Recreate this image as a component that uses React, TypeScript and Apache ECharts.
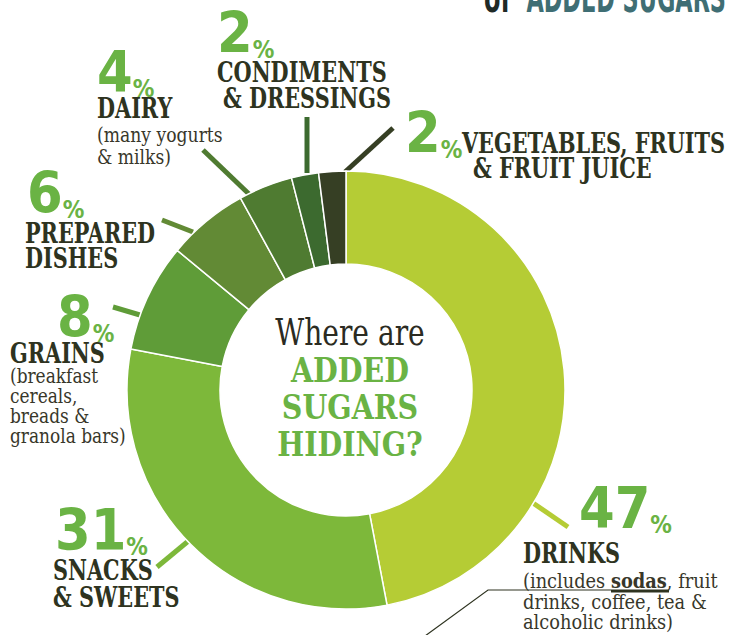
import React, { useEffect, useRef } from 'react';
import * as echarts from 'echarts';

// ---------- data ----------
const categories = [
  'Drinks',
  'Snacks & Sweets',
  'Grains',
  'Prepared Dishes',
  'Dairy',
  'Condiments & Dressings',
  'Vegetables, Fruits & Fruit Juice',
];
const shares = [47, 31, 8, 6, 4, 2, 2];
const nameLines = [
  ['DRINKS'],
  ['SNACKS', '& SWEETS'],
  ['GRAINS'],
  ['PREPARED', 'DISHES'],
  ['DAIRY'],
  ['CONDIMENTS', '& DRESSINGS'],
  ['VEGETABLES, FRUITS', '& FRUIT JUICE'],
];
const noteLines = [
  ['(includes {b|sodas}, fruit', 'drinks, coffee, tea &', 'alcoholic drinks)'],
  [],
  ['(breakfast', 'cereals,', 'breads &', 'granola bars)'],
  [],
  ['(many yogurts', '& milks)'],
  [],
  [],
];
const centerLines = ['Where are', 'ADDED', 'SUGARS', 'HIDING?'];
const headerWords = ['of', 'ADDED SUGARS'];

// ---------- styles / layout ----------
const sliceColors = ['#b5cc35', '#7db83a', '#5f9c38', '#628a35', '#4f7b31', '#3c6a2f', '#363f24'];
const GREEN = '#6ab344';
const DARK = '#2e3320';
const NOTE = '#38372a';
const FONT_NUM = "'Liberation Sans Narrow', 'DejaVu Sans Condensed', 'Roboto Condensed', Roboto, sans-serif";
const FONT_SLAB = "'DejaVu Serif', serif";

const LAYOUT = [
  { pct: [579, 528], line: [[533, 503], [568, 527]], names: [[523, 563]], notes: [523, 588], noteLH: 20.5, noteSX: 0.89 },
  { pct: [55, 550], line: [[192, 538], [157, 567]], names: [[53, 580], [53, 607]] },
  { pct: [57, 337], line: [[140, 315], [113, 307]], names: [[10, 363]], notes: [10, 383], noteLH: 20, noteSX: 0.85 },
  { pct: [27, 213], line: [[193, 232], [162, 220]], names: [[25, 243], [25, 268]] },
  { pct: [97, 92], line: [[250, 195], [203, 150]], names: [[97, 118]], notes: [97, 142], noteLH: 22, noteSX: 0.86 },
  { pct: [217, 53], line: [[307, 173], [307, 117]], names: [[217, 82], [223, 108]] },
  { pct: [405, 153], line: [[345, 172], [393, 128]], names: [[462, 153], [473, 178]] },
];

const NAME_FS = 27;
const NAME_SX = 0.77;
const NOTE_FS = 20;

function buildGraphic() {
  const els: any[] = [];
  // header (cut off at the top edge, as in the source)
  els.push({
    type: 'text', x: 726, y: -2, scaleX: 0.56,
    style: { text: headerWords[1], x: 0, y: 0, align: 'right', verticalAlign: 'middle', fontSize: 40, fontWeight: 'bold', fontFamily: "'DejaVu Sans', sans-serif", fill: '#3f6e74' },
  });
  els.push({
    type: 'text', x: 511, y: -2, scaleX: 0.6,
    style: { text: headerWords[0], x: 0, y: 0, align: 'right', verticalAlign: 'middle', fontSize: 40, fontWeight: 'bold', fontFamily: "'DejaVu Sans', sans-serif", fill: '#1f2a26' },
  });
  // category names and notes
  nameLines.forEach((lines, i) => {
    const L: any = LAYOUT[i];
    lines.forEach((t, j) => {
      const [x, base] = L.names[j];
      els.push({
        type: 'text', x, y: base - 0.35 * NAME_FS, scaleX: NAME_SX,
        style: { text: t, x: 0, y: 0, align: 'left', verticalAlign: 'middle', fontSize: NAME_FS, fontWeight: 'bold', fontFamily: FONT_SLAB, fill: DARK },
      });
    });
    noteLines[i].forEach((t, j) => {
      const [x, base] = L.notes;
      els.push({
        type: 'text', x, y: base + j * L.noteLH - 0.35 * NOTE_FS, scaleX: L.noteSX,
        style: {
          text: t, x: 0, y: 0, align: 'left', verticalAlign: 'middle', fontSize: NOTE_FS, fontFamily: FONT_SLAB, fill: NOTE,
          rich: { b: { fontSize: NOTE_FS, fontFamily: FONT_SLAB, fontWeight: 'bold', color: DARK } },
        },
      });
    });
  });
  // center text
  const centerBases = [345, 382, 419, 456];
  centerLines.forEach((t, j) => {
    const first = j === 0;
    const fs = first ? 37 : 34;
    els.push({
      type: 'text', x: 350, y: centerBases[j] - 0.35 * fs, scaleX: first ? 0.76 : 0.84,
      style: { text: t, x: 0, y: 0, align: 'center', verticalAlign: 'middle', fontSize: fs, fontWeight: first ? 'normal' : 'bold', fontFamily: FONT_SLAB, fill: first ? '#2b2b22' : GREEN },
    });
  });
  // pointer line to "sodas" and its underline
  els.push({ type: 'polyline', shape: { points: [[425, 636], [488, 590], [611, 590]] }, style: { stroke: DARK, lineWidth: 1.2, fill: 'none' } });
  els.push({ type: 'line', shape: { x1: 611, y1: 591, x2: 669, y2: 591 }, style: { stroke: DARK, lineWidth: 3 } });
  return els;
}

export default function App() {
  const ref = useRef<HTMLDivElement>(null);
  useEffect(() => {
    if (!ref.current) return;
    const chart = echarts.init(ref.current, undefined, { renderer: 'svg' });
    const option: any = {
      animation: false,
      backgroundColor: '#ffffff',
      series: [
        {
          type: 'pie',
          center: [346, 390],
          radius: [126, 219],
          startAngle: 90,
          clockwise: true,
          avoidLabelOverlap: false,
          silent: true,
          itemStyle: { borderColor: '#ffffff', borderWidth: 1.5 },
          data: categories.map((c, i) => ({ name: c, value: shares[i], itemStyle: { color: sliceColors[i] } })),
          label: {
            show: true,
            position: 'outside',
            formatter: (p: any) => `{n|${p.value}}{p|%}`,
            rich: {
              n: { fontSize: 57, lineHeight: 57, fontFamily: FONT_NUM, fontWeight: 'bold', color: GREEN },
              p: { fontSize: 24, lineHeight: 41, fontFamily: FONT_NUM, fontWeight: 'bold', color: GREEN, verticalAlign: 'bottom' },
            },
          },
          labelLine: { show: true, length: 10, length2: 0, smooth: false, lineStyle: { width: 5, cap: 'butt' } },
          labelLayout: (params: any) => {
            const L = LAYOUT[params.dataIndex];
            return {
              x: L.pct[0],
              y: L.pct[1] - 20,
              align: 'left',
              verticalAlign: 'middle',
              labelLinePoints: L.line,
            };
          },
        },
      ],
      graphic: buildGraphic(),
    };
    chart.setOption(option);
    return () => chart.dispose();
  }, []);
  return <div ref={ref} style={{ position: 'absolute', left: 0, top: 0, width: 732, height: 635 }} />;
}
